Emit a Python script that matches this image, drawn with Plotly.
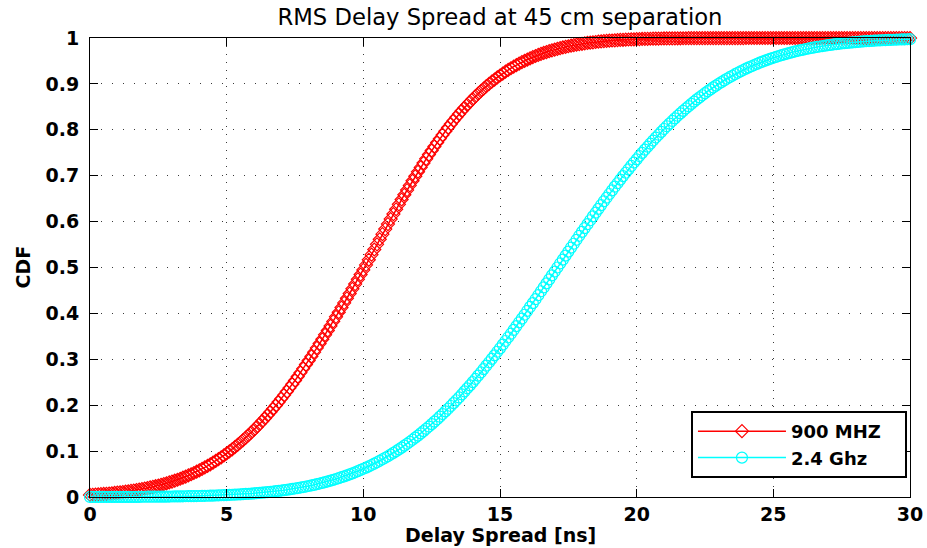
import plotly.graph_objects as go

# Delay-spread sample grid in ns (0 to 30 in 0.1 ns steps)
DELAY_NS = [i / 10 for i in range(301)]

# Empirical CDF of RMS delay spread, 900 MHz band
CDF_900MHZ = [
    0.0045, 0.0049, 0.0053, 0.0057, 0.0061, 0.0066, 0.0070, 0.0076, 0.0081, 0.0088,
    0.0094, 0.0101, 0.0107, 0.0115, 0.0123, 0.0132, 0.0141, 0.0151, 0.0161, 0.0172,
    0.0183, 0.0195, 0.0208, 0.0221, 0.0235, 0.0250, 0.0265, 0.0281, 0.0299, 0.0317,
    0.0336, 0.0355, 0.0376, 0.0398, 0.0421, 0.0445, 0.0470, 0.0496, 0.0523, 0.0551,
    0.0581, 0.0612, 0.0644, 0.0677, 0.0712, 0.0747, 0.0785, 0.0824, 0.0864, 0.0905,
    0.0949, 0.0993, 0.1039, 0.1087, 0.1136, 0.1187, 0.1239, 0.1294, 0.1349, 0.1406,
    0.1465, 0.1526, 0.1587, 0.1651, 0.1716, 0.1784, 0.1852, 0.1922, 0.1994, 0.2067,
    0.2142, 0.2218, 0.2296, 0.2376, 0.2457, 0.2539, 0.2623, 0.2709, 0.2796, 0.2884,
    0.2973, 0.3063, 0.3155, 0.3248, 0.3342, 0.3437, 0.3533, 0.3628, 0.3728, 0.3826,
    0.3926, 0.4025, 0.4126, 0.4228, 0.4330, 0.4432, 0.4535, 0.4638, 0.4742, 0.4845,
    0.4948, 0.5056, 0.5168, 0.5280, 0.5392, 0.5504, 0.5615, 0.5726, 0.5837, 0.5946,
    0.6055, 0.6163, 0.6269, 0.6376, 0.6481, 0.6585, 0.6687, 0.6789, 0.6890, 0.6988,
    0.7086, 0.7181, 0.7275, 0.7368, 0.7460, 0.7549, 0.7636, 0.7723, 0.7806, 0.7889,
    0.7969, 0.8048, 0.8124, 0.8199, 0.8273, 0.8343, 0.8413, 0.8480, 0.8545, 0.8608,
    0.8670, 0.8729, 0.8787, 0.8843, 0.8897, 0.8950, 0.9000, 0.9048, 0.9095, 0.9140,
    0.9183, 0.9225, 0.9266, 0.9304, 0.9341, 0.9376, 0.9410, 0.9442, 0.9473, 0.9503,
    0.9531, 0.9558, 0.9583, 0.9608, 0.9632, 0.9654, 0.9674, 0.9694, 0.9714, 0.9731,
    0.9748, 0.9764, 0.9779, 0.9794, 0.9807, 0.9820, 0.9832, 0.9844, 0.9855, 0.9865,
    0.9874, 0.9883, 0.9892, 0.9899, 0.9906, 0.9913, 0.9920, 0.9926, 0.9932, 0.9937,
    0.9941, 0.9946, 0.9950, 0.9954, 0.9958, 0.9961, 0.9964, 0.9967, 0.9970, 0.9972,
    0.9974, 0.9976, 0.9979, 0.9980, 0.9982, 0.9984, 0.9985, 0.9987, 0.9988, 0.9989,
    0.9990, 0.9991, 0.9992, 0.9992, 0.9993, 0.9994, 0.9994, 0.9995, 0.9995, 0.9996,
    0.9996, 0.9997, 0.9997, 0.9997, 0.9998, 0.9998, 0.9998, 0.9998, 0.9998, 0.9999,
    0.9999, 0.9999, 0.9999, 0.9999, 0.9999, 0.9999, 0.9999, 0.9999, 0.9999, 0.9999,
    1.0, 1.0, 1.0, 1.0, 1.0, 1.0, 1.0, 1.0, 1.0, 1.0,
    1.0, 1.0, 1.0, 1.0, 1.0, 1.0, 1.0, 1.0, 1.0, 1.0,
    1.0, 1.0, 1.0, 1.0, 1.0, 1.0, 1.0, 1.0, 1.0, 1.0,
    1.0, 1.0, 1.0, 1.0, 1.0, 1.0, 1.0, 1.0, 1.0, 1.0,
    1.0, 1.0, 1.0, 1.0, 1.0, 1.0, 1.0, 1.0, 1.0, 1.0,
    1.0, 1.0, 1.0, 1.0, 1.0, 1.0, 1.0, 1.0, 1.0, 1.0,
    1.0,
]

# Empirical CDF of RMS delay spread, 2.4 GHz band
CDF_2_4GHZ = [
    0.0001, 0.0001, 0.0001, 0.0001, 0.0001, 0.0002, 0.0002, 0.0002, 0.0002, 0.0002,
    0.0002, 0.0003, 0.0003, 0.0003, 0.0003, 0.0003, 0.0004, 0.0004, 0.0004, 0.0005,
    0.0005, 0.0006, 0.0006, 0.0006, 0.0007, 0.0008, 0.0008, 0.0009, 0.0009, 0.0010,
    0.0011, 0.0012, 0.0013, 0.0013, 0.0015, 0.0016, 0.0017, 0.0018, 0.0020, 0.0021,
    0.0022, 0.0024, 0.0026, 0.0027, 0.0029, 0.0031, 0.0033, 0.0035, 0.0038, 0.0040,
    0.0043, 0.0046, 0.0049, 0.0052, 0.0055, 0.0058, 0.0062, 0.0066, 0.0070, 0.0074,
    0.0079, 0.0084, 0.0089, 0.0095, 0.0100, 0.0106, 0.0112, 0.0119, 0.0126, 0.0133,
    0.0141, 0.0149, 0.0157, 0.0166, 0.0175, 0.0185, 0.0195, 0.0206, 0.0217, 0.0228,
    0.0240, 0.0252, 0.0265, 0.0279, 0.0293, 0.0308, 0.0323, 0.0340, 0.0356, 0.0373,
    0.0392, 0.0411, 0.0431, 0.0450, 0.0471, 0.0493, 0.0516, 0.0538, 0.0563, 0.0589,
    0.0615, 0.0641, 0.0668, 0.0697, 0.0726, 0.0757, 0.0789, 0.0822, 0.0854, 0.0888,
    0.0925, 0.0961, 0.0998, 0.1037, 0.1077, 0.1119, 0.1159, 0.1203, 0.1247, 0.1293,
    0.1338, 0.1386, 0.1435, 0.1486, 0.1535, 0.1587, 0.1642, 0.1694, 0.1750, 0.1807,
    0.1865, 0.1923, 0.1983, 0.2045, 0.2108, 0.2169, 0.2234, 0.2300, 0.2368, 0.2433,
    0.2502, 0.2572, 0.2644, 0.2713, 0.2787, 0.2861, 0.2936, 0.3009, 0.3085, 0.3164,
    0.3239, 0.3319, 0.3399, 0.3479, 0.3558, 0.3640, 0.3723, 0.3806, 0.3886, 0.3971,
    0.4056, 0.4141, 0.4223, 0.4309, 0.4396, 0.4483, 0.4566, 0.4654, 0.4741, 0.4829,
    0.4912, 0.5000, 0.5088, 0.5171, 0.5259, 0.5346, 0.5434, 0.5517, 0.5604, 0.5691,
    0.5777, 0.5859, 0.5944, 0.6029, 0.6114, 0.6194, 0.6277, 0.6360, 0.6442, 0.6521,
    0.6601, 0.6681, 0.6761, 0.6836, 0.6915, 0.6991, 0.7064, 0.7139, 0.7213, 0.7287,
    0.7356, 0.7428, 0.7498, 0.7567, 0.7632, 0.7700, 0.7766, 0.7831, 0.7892, 0.7955,
    0.8017, 0.8077, 0.8135, 0.8193, 0.8250, 0.8306, 0.8358, 0.8413, 0.8465, 0.8514,
    0.8565, 0.8614, 0.8662, 0.8707, 0.8753, 0.8797, 0.8841, 0.8881, 0.8923, 0.8963,
    0.9002, 0.9039, 0.9075, 0.9112, 0.9146, 0.9178, 0.9211, 0.9243, 0.9274, 0.9303,
    0.9332, 0.9359, 0.9385, 0.9411, 0.9437, 0.9462, 0.9484, 0.9507, 0.9529, 0.9550,
    0.9569, 0.9589, 0.9608, 0.9627, 0.9644, 0.9660, 0.9677, 0.9692, 0.9707, 0.9721,
    0.9735, 0.9748, 0.9760, 0.9772, 0.9783, 0.9794, 0.9805, 0.9815, 0.9825, 0.9834,
    0.9843, 0.9851, 0.9859, 0.9867, 0.9874, 0.9881, 0.9888, 0.9894, 0.9900, 0.9905,
    0.9911, 0.9916, 0.9921, 0.9926, 0.9930, 0.9934, 0.9938, 0.9942, 0.9945, 0.9948,
    0.9951, 0.9954, 0.9957, 0.9960, 0.9962, 0.9965, 0.9967, 0.9969, 0.9971, 0.9973,
    0.9974,
]

SERIES_NAMES = ["900 MHZ", "2.4 Ghz"]
X_TICKS = [0, 5, 10, 15, 20, 25, 30]
Y_TICKS = [0, 0.1, 0.2, 0.3, 0.4, 0.5, 0.6, 0.7, 0.8, 0.9, 1]
Y_TICK_TEXT = ["0", "0.1", "0.2", "0.3", "0.4", "0.5", "0.6", "0.7", "0.8", "0.9", "1"]

TITLE = "RMS Delay Spread at 45 cm separation"
X_LABEL = "Delay Spread [ns]"
Y_LABEL = "CDF"

FONT = "DejaVu Sans"
RED = "#ff0000"
CYAN = "#00ffff"
# trailing no-break spaces widen the legend box on the right
LEGEND_PAD = "\u00a0\u00a0\u00a0"

fig = go.Figure()

fig.add_trace(go.Scatter(
    x=DELAY_NS, y=CDF_900MHZ, name=SERIES_NAMES[0] + LEGEND_PAD,
    mode="lines+markers",
    line=dict(color=RED, width=1.5),
    marker=dict(symbol="diamond-open", size=10, color=RED, line=dict(color=RED, width=1.2)),
    cliponaxis=False,
))
fig.add_trace(go.Scatter(
    x=DELAY_NS, y=CDF_2_4GHZ, name=SERIES_NAMES[1] + LEGEND_PAD,
    mode="lines+markers",
    line=dict(color=CYAN, width=1.5),
    marker=dict(symbol="circle-open", size=11, color=CYAN, line=dict(color=CYAN, width=1.2)),
    cliponaxis=False,
))

axis_common = dict(
    showline=True, linecolor="black", linewidth=1,
    mirror="ticks", ticks="inside", ticklen=8, tickwidth=1, tickcolor="black",
    showgrid=True, gridcolor="#3a3a3a", gridwidth=1,
    zeroline=False,
    tickfont=dict(family=FONT, size=19, color="black", weight="bold"),
    automargin=False,
)

fig.update_xaxes(
    range=[0, 30], tickmode="array", tickvals=X_TICKS,
    griddash="1px,7px", ticklabelstandoff=0, **axis_common,
)
fig.update_yaxes(
    range=[0, 1], tickmode="array", tickvals=Y_TICKS, ticktext=Y_TICK_TEXT,
    griddash="1px,10px", ticklabelstandoff=6, **axis_common,
)

fig.update_layout(
    width=927, height=548,
    margin=dict(l=90, r=17, t=38, b=51),
    plot_bgcolor="white", paper_bgcolor="white",
    font=dict(family=FONT, color="black"),
    title=dict(
        text=TITLE, x=0.5, xref="paper", xanchor="center",
        y=1 - 17.5 / 548, yref="container", yanchor="middle",
        font=dict(family=FONT, size=22.7, color="black"),
    ),
    showlegend=True,
    legend=dict(
        x=0.9963, y=0.0414, xanchor="right", yanchor="bottom",
        bgcolor="white", bordercolor="black", borderwidth=2,
        font=dict(family=FONT, size=18, color="black", weight="bold"),
        itemwidth=88, tracegroupgap=0,
    ),
    annotations=[
        dict(text=X_LABEL, xref="paper", yref="paper", x=0.5, y=-(535 - 497) / 459,
             xanchor="center", yanchor="middle", showarrow=False,
             font=dict(family=FONT, size=19, color="black", weight="bold")),
        dict(text=Y_LABEL, xref="paper", yref="paper", x=-(90 - 22) / 820, y=0.5,
             xanchor="center", yanchor="middle", showarrow=False, textangle=-90,
             font=dict(family=FONT, size=19, color="black", weight="bold")),
    ],
)

fig.write_html("out.html")
